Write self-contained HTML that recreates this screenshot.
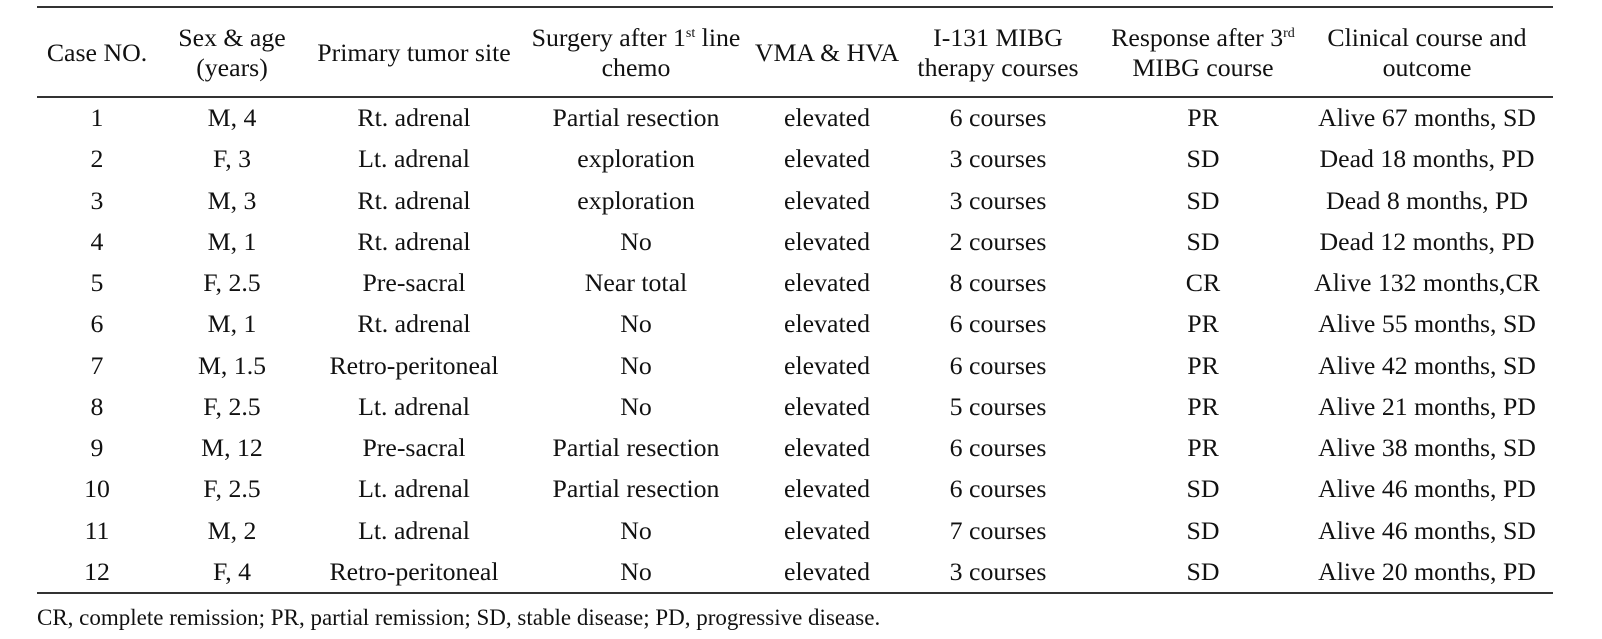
<!DOCTYPE html>
<html><head><style>
body{margin:0;width:1602px;height:639px;background:#fff;position:relative;overflow:hidden;font-family:"Liberation Serif",serif;color:#111;}
.l{position:absolute;left:37px;width:1516px;background:#333;}
.c{position:absolute;transform:translate(-50%,-50%);white-space:nowrap;font-size:25.8px;text-align:center;line-height:30px;}
sup{font-size:14px;line-height:0;vertical-align:9px;}
.f{position:absolute;left:37px;top:605px;line-height:26px;font-size:23px;white-space:nowrap;}
</style></head><body>
<div class="l" style="top:6px;height:2px"></div>
<div class="l" style="top:96px;height:2px"></div>
<div class="l" style="top:592px;height:2px"></div>
<div id="t"></div>
<div class="f">CR, complete remission; PR, partial remission; SD, stable disease; PD, progressive disease.</div>
<script>
var xs=[97,232,414,636,827,998,1203,1427];
var H=["Case NO.","Sex &amp; age<br>(years)","Primary tumor site","Surgery after 1<sup>st</sup> line<br>chemo","VMA &amp; HVA","I-131 MIBG<br>therapy courses","Response after 3<sup>rd</sup><br>MIBG course","Clinical course and<br>outcome"];
var R=[
["1","M, 4","Rt. adrenal","Partial resection","elevated","6 courses","PR","Alive 67 months, SD"],
["2","F, 3","Lt. adrenal","exploration","elevated","3 courses","SD","Dead 18 months, PD"],
["3","M, 3","Rt. adrenal","exploration","elevated","3 courses","SD","Dead 8 months, PD"],
["4","M, 1","Rt. adrenal","No","elevated","2 courses","SD","Dead 12 months, PD"],
["5","F, 2.5","Pre-sacral","Near total","elevated","8 courses","CR","Alive 132 months,CR"],
["6","M, 1","Rt. adrenal","No","elevated","6 courses","PR","Alive 55 months, SD"],
["7","M, 1.5","Retro-peritoneal","No","elevated","6 courses","PR","Alive 42 months, SD"],
["8","F, 2.5","Lt. adrenal","No","elevated","5 courses","PR","Alive 21 months, PD"],
["9","M, 12","Pre-sacral","Partial resection","elevated","6 courses","PR","Alive 38 months, SD"],
["10","F, 2.5","Lt. adrenal","Partial resection","elevated","6 courses","SD","Alive 46 months, PD"],
["11","M, 2","Lt. adrenal","No","elevated","7 courses","SD","Alive 46 months, SD"],
["12","F, 4","Retro-peritoneal","No","elevated","3 courses","SD","Alive 20 months, PD"]];
var s="";
H.forEach(function(h,i){s+='<div class="c" style="left:'+xs[i]+'px;top:53px">'+h+'</div>';});
R.forEach(function(r,j){var y=118+j*41.27;r.forEach(function(v,i){s+='<div class="c" style="left:'+xs[i]+'px;top:'+y+'px">'+v+'</div>';});});
document.getElementById("t").innerHTML=s;
</script>
</body></html>
